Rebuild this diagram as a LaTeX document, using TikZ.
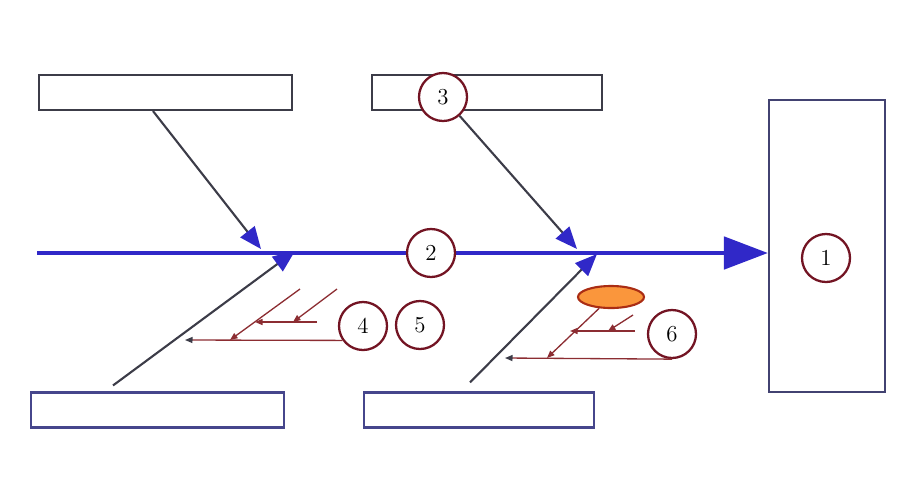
\documentclass[tikz,border=0pt]{standalone}
\usepackage{tikz}
\usetikzlibrary{arrows.meta, positioning, shapes.geometric}
\definecolor{spineblue}{RGB}{48, 40, 200}
\definecolor{bonegray}{RGB}{60, 60, 72}
\definecolor{boxblue}{RGB}{70, 70, 140}
\definecolor{circred}{RGB}{115, 20, 35}
\definecolor{twigred}{RGB}{140, 45, 50}
\definecolor{knotred}{RGB}{170, 45, 20}
\definecolor{knotorange}{RGB}{250, 150, 60}
\tikzset{
    causebox/.style={rectangle, draw=bonegray, line width=1.2pt, fill=white, minimum height=0.7cm, inner sep=0pt},
    numcircle/.style={circle, draw=circred, line width=1.3pt, fill=white, minimum size=0.96cm, inner sep=0pt, font=\fontsize{13}{15}\selectfont},
    spine/.style={line width=2.8pt, draw=spineblue, -{Triangle[length=0.88cm, width=0.64cm]}},
    bone/.style={line width=1.2pt, draw=bonegray, -{Triangle[length=0.44cm, width=0.36cm, color=spineblue]}},
    twig/.style={line width=0.75pt, draw=twigred, -{Triangle[length=0.15cm, width=0.12cm]}}
}
\begin{document}
\begin{tikzpicture}[x=0.02cm, y=-0.02cm]
    \useasboundingbox (0,0) rectangle (915,501);
    \node (tl) [causebox, minimum width=5.06cm] at (165.5,92.5) {};
    \node (tm) [causebox, minimum width=4.6cm] at (487,92.5) {};
    \node (bl) [causebox, minimum width=5.06cm, draw=boxblue] at (157.5,410) {};
    \node (bm) [causebox, minimum width=4.6cm, draw=boxblue] at (479,410) {};
    \node (effect) [causebox, minimum width=2.32cm, minimum height=5.84cm, draw=boxblue!60!bonegray] at (827,246) {};
    \node (c1) [numcircle] at (826,258) {1};

    \coordinate (tail) at (37,253);
    \draw [spine] (tail) -- (tail -| effect.west);
    \node (c2) [numcircle] at (431,253) {2};
    \node (c3) [numcircle] at (443,97) {3};

    \coordinate (j1) at (261,249);
    \coordinate (j2) at (577,249);
    \coordinate (j3) at (295,251);
    \coordinate (j4) at (597,254);
    \draw [bone] ([xshift=-0.25cm]tl.south) -- (j1);
    \draw [bone] (c3) -- (j2);
    \draw [bone] ([xshift=-0.89cm, yshift=0.12cm]bl.north) -- (j3);
    \draw [bone] ([xshift=-0.18cm, yshift=0.18cm]bm.north) -- (j4);

    \node (c4) [numcircle] at (363,326) {4};
    \node (c5) [numcircle] at (420,325) {5};
    \coordinate (a1) at (185,340);
    \coordinate (a2) at (300,289);
    \coordinate (a3) at (230,340);
    \coordinate (a4) at (317,322);
    \coordinate (a5) at (255,322);
    \coordinate (a6) at (337,289);
    \coordinate (a7) at (293,322);
    \draw [twig, -{Triangle[length=0.15cm, width=0.12cm, color=bonegray]}] (c4.215) -- (a1);
    \draw [twig] (a2) -- (a3);
    \draw [twig] (a4) -- (a5);
    \draw [twig] (a6) -- (a7);

    \node (knot) [ellipse, draw=knotred, fill=knotorange, line width=1.2pt, minimum width=1.32cm, minimum height=0.44cm, inner sep=0pt] at (611,297) {};
    \node (c6) [numcircle] at (672,334) {6};
    \coordinate (b1) at (505,358);
    \coordinate (b2) at (547,358);
    \coordinate (b3) at (635,331);
    \coordinate (b4) at (570,331);
    \coordinate (b5) at (633,315);
    \coordinate (b6) at (608,331);
    \draw [twig, -{Triangle[length=0.15cm, width=0.12cm, color=bonegray]}] (c6.south) -- (b1);
    \draw [twig] (knot) -- (b2);
    \draw [twig] (b3) -- (b4);
    \draw [twig] (b5) -- (b6);
\end{tikzpicture}
\end{document}
